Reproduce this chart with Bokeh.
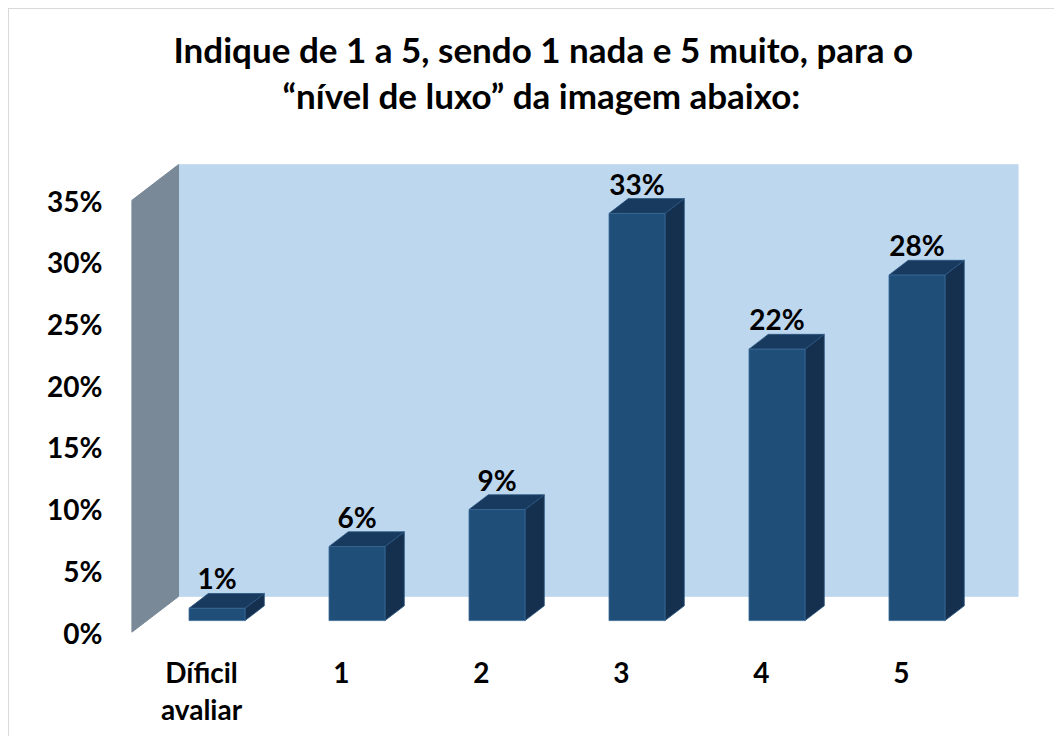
from bokeh.plotting import figure
from bokeh.models import Range1d, FixedTicker, LinearAxis, Title
from bokeh.core.properties import value
from bokeh.embed import file_html
from bokeh.resources import INLINE

# ---- data ----
categories = ["Díficil avaliar", "1", "2", "3", "4", "5"]
cat_line1 = ["Díficil", "1", "2", "3", "4", "5"]
cat_line2 = ["avaliar", "", "", "", "", ""]
values = [1, 6, 9, 33, 22, 28]
value_labels = ["1%", "6%", "9%", "33%", "22%", "28%"]
y_ticks = [0, 5, 10, 15, 20, 25, 30, 35]
y_tick_labels = ["0%", "5%", "10%", "15%", "20%", "25%", "30%", "35%"]
title_line1 = "Indique de 1 a 5, sendo 1 nada e 5 muito, para o"
title_line2 = "\u201cnível de luxo\u201d da imagem abaixo:"

# ---- 3D projection settings (style) ----
DX = 0.336      # depth shift in category units
DY = 2.92       # depth shift in percent units
D0, D1 = 0.33, 0.74   # bar depth span (fraction of full depth)
BAR_W = 0.4
Y_MAX = 35
Y_END = 38.25

FONT = value("Lato")
FRONT = "#1F4E79"
TOP = "#183A5E"
SIDE = "#15304F"
WALL = "#BDD7EE"
SIDE_WALL = "#7A8998"

W, H = 1054, 736
n = len(categories)
p = figure(width=W, height=H, output_backend="svg", toolbar_location=None,
           x_range=Range1d(-0.5, n - 0.5 + DX), y_range=Range1d(0, Y_END),
           x_axis_location=None, y_axis_location=None, title=None,
           min_border_left=131, min_border_right=W - 1018, min_border_top=160,
           min_border_bottom=H - 632)
p.outline_line_color = None
p.background_fill_color = "white"
p.border_fill_color = None
p.xgrid.visible = False
p.ygrid.visible = False
p.styles = {"background": "linear-gradient(#D9D9D9,#D9D9D9) 8px 8px / 1px 100% no-repeat, "
                          "linear-gradient(#D9D9D9,#D9D9D9) 8px 8px / 100% 1px no-repeat, white"}

# back wall and side wall
p.quad(left=[-0.5 + DX], right=[n - 0.5 + DX], bottom=[DY], top=[Y_MAX + DY],
       fill_color=WALL, line_color="#C9DDF0", line_width=1)
p.patch(x=[-0.5, -0.5 + DX, -0.5 + DX, -0.5], y=[0, DY, Y_MAX + DY, Y_MAX],
        fill_color=SIDE_WALL, line_color=SIDE_WALL)

# bars
bd = D1 - D0
fx, fy, tx, ty, sx, sy = [], [], [], [], [], []
for i, v in enumerate(values):
    xl = i - BAR_W / 2 + D0 * DX
    xr = i + BAR_W / 2 + D0 * DX
    yb = D0 * DY
    yt = v + D0 * DY
    fx.append([xl, xr, xr, xl]); fy.append([yb, yb, yt, yt])
    tx.append([xl, xr, xr + bd * DX, xl + bd * DX]); ty.append([yt, yt, yt + bd * DY, yt + bd * DY])
    sx.append([xr, xr + bd * DX, xr + bd * DX, xr]); sy.append([yb, yb + bd * DY, yt + bd * DY, yt])

p.patches(sx, sy, fill_color=SIDE, line_color="#2A5580", line_width=0.8)
p.patches(tx, ty, fill_color=TOP, line_color="#2A5580", line_width=0.8)
p.patches(fx, fy, fill_color=FRONT, line_color="#3A6A98", line_width=0.8)

# data labels
lx = [i + D0 * DX for i in range(n)]
ly = [v + D1 * DY for v in values]
p.text(x=lx, y=ly, text=value_labels, text_font=FONT, text_font_style="bold",
       text_font_size="28px", text_color="black", text_align="center",
       text_baseline="middle", y_offset=-15)

# y axis
ya = LinearAxis(ticker=FixedTicker(ticks=y_ticks),
                major_label_overrides={t: l for t, l in zip(y_ticks, y_tick_labels)})
# x axes (two lines of category labels)
xa1 = LinearAxis(ticker=FixedTicker(ticks=list(range(n))),
                 major_label_overrides={i: l for i, l in enumerate(cat_line1)})
xa2 = LinearAxis(ticker=FixedTicker(ticks=list(range(n))),
                 major_label_overrides={i: l for i, l in enumerate(cat_line2)})
for ax in (ya, xa1, xa2):
    ax.axis_line_color = None
    ax.major_tick_line_color = None
    ax.minor_tick_line_color = None
    ax.major_tick_out = 0
    ax.major_tick_in = 0
    ax.major_label_text_font = "Lato"
    ax.major_label_text_font_style = "bold"
    ax.major_label_text_font_size = "28px"
    ax.major_label_text_color = "black"
ya.major_label_standoff = 29
xa1.major_label_standoff = 22
xa2.major_label_standoff = 0
p.add_layout(ya, "left")
p.add_layout(xa1, "below")
p.add_layout(xa2, "below")

# titles (first added is closest to the frame); centred over the whole chart
spacer = Title(text=" ", text_font_size="1px", standoff=41)
t2 = Title(text=title_line2, align="left", offset=151, text_font="Lato", text_font_style="bold",
           text_font_size="35px", text_color="black", standoff=2)
t1 = Title(text=title_line1, align="left", offset=42, text_font="Lato", text_font_style="bold",
           text_font_size="35px", text_color="black", standoff=2)
p.add_layout(spacer, "above")
p.add_layout(t2, "above")
p.add_layout(t1, "above")

open("out.html", "w").write(file_html(p, INLINE))
